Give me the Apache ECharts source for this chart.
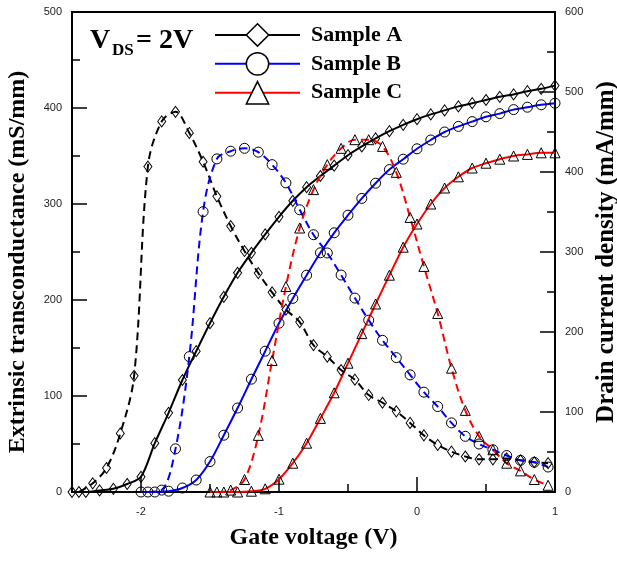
<!DOCTYPE html>
<html>
<head>
<meta charset="utf-8">
<script src="https://cdn.jsdelivr.net/npm/echarts@6/dist/echarts.min.js"></script>
<style>
html, body { margin: 0; padding: 0; background: #fff; }
#chart { width: 617px; height: 561px; }
</style>
</head>
<body>
<div id="chart"></div>
<script>
// drain current (mA/mm, right axis), every 0.1 V
var idX_A = [-2.5,-2.4,-2.3,-2.2,-2.1,-2.0,-1.9,-1.8,-1.7,-1.6,-1.5,-1.4,-1.3,-1.2,-1.1,-1.0,-0.9,-0.8,-0.7,-0.6,-0.5,-0.4,-0.3,-0.2,-0.1,0.0,0.1,0.2,0.3,0.4,0.5,0.6,0.7,0.8,0.9,1.0];
var idA = [0,0,2,4,10,19,61,99,140,176,211,244,274,299,322,344,364,381,395,408,421,432,442,451,459,466,472,477,482,486,490,494,497,501,504,508];
var idX_B = [-2.0,-1.9,-1.8,-1.7,-1.6,-1.5,-1.4,-1.3,-1.2,-1.1,-1.0,-0.9,-0.8,-0.7,-0.6,-0.5,-0.4,-0.3,-0.2,-0.1,0.0,0.1,0.2,0.3,0.4,0.5,0.6,0.7,0.8,0.9,1.0];
var idB = [0,0,1,5,15,38,71,105,141,176,211,242,271,299,324,346,367,386,403,416,429,440,450,457,463,469,473,478,481,484,486];
var idX_C = [-1.5,-1.4,-1.3,-1.2,-1.1,-1.0,-0.9,-0.8,-0.7,-0.6,-0.5,-0.4,-0.3,-0.2,-0.1,0.0,0.1,0.2,0.3,0.4,0.5,0.6,0.7,0.8,0.9,1.0];
var idC = [0,0,0,1,4,16,36,61,92,124,161,198,235,271,306,335,360,380,394,405,411,416,420,422,424,424];

// extrinsic transconductance (mS/mm, left axis), midpoints
var gmX_A = [-2.45,-2.35,-2.25,-2.15,-2.05,-1.95,-1.85,-1.75,-1.65,-1.55,-1.45,-1.35,-1.25,-1.15,-1.05,-0.95,-0.85,-0.75,-0.65,-0.55,-0.45,-0.35,-0.25,-0.15,-0.05,0.05,0.15,0.25,0.35,0.45,0.55,0.65,0.75,0.85,0.95];
var gmA = [0,9,25,61,121,339,386,396,374,344,308,277,251,228,208,190,177,153,141,127,117,101,93,84,72,59,49,42,37,34,34,35,33,31,30];
var gmX_B = [-1.95,-1.85,-1.75,-1.65,-1.55,-1.45,-1.35,-1.25,-1.15,-1.05,-0.95,-0.85,-0.75,-0.65,-0.55,-0.45,-0.35,-0.25,-0.15,-0.05,0.05,0.15,0.25,0.35,0.45,0.55,0.65,0.75,0.85,0.95];
var gmB = [0,2,45,141,292,347,355,358,354,341,322,294,268,249,226,202,179,158,140,122,104,89,72,58,50,44,38,33,31,26];
var gmX_C = [-1.45,-1.35,-1.25,-1.15,-1.05,-0.95,-0.85,-0.75,-0.65,-0.55,-0.45,-0.35,-0.25,-0.15,-0.05,0.05,0.15,0.25,0.35,0.45,0.55,0.65,0.75,0.85,0.95];
var gmC = [0,2,13,59,137,214,275,315,341,358,367,367,360,333,286,235,186,129,85,58,44,30,22,13,7];

var names = ['Sample A', 'Sample B', 'Sample C'];
var colors = ['#000000', '#0000ff', '#ff0000'];
var symbols = ['diamond', 'circle', 'triangle'];
var symSizes = [[8, 11], 10, 10];
var majorX = [-2, -1, 0, 1];

var serif = 'Liberation Serif';
var sans = 'Liberation Sans';

function pairs(xs, ys) {
	return xs.map(function(x, i) { return [x, ys[i]]; });
}

function makeSeries(i, xs, ys, dashed) {
	return {
		name: names[i],
		type: 'line',
		xAxisIndex: 0,
		yAxisIndex: dashed ? 0 : 1,
		data: pairs(xs, ys),
		smooth: dashed ? 0.35 : 0.3,
		symbol: symbols[i],
		symbolSize: symSizes[i],
		lineStyle: {
			color: colors[i],
			width: 2,
			type: dashed ? [8, 5] : 'solid'
		},
		itemStyle: {
			color: 'rgba(255,255,255,0)',
			borderColor: '#000',
			borderWidth: 1
		},
		z: dashed ? 3 : 2
	};
}

var myChart = echarts.init(document.getElementById('chart'));

var option = {
	animation: false,
	backgroundColor: '#fff',
	grid: {
		left: 72,
		right: 62,
		top: 12,
		bottom: 69,
		outerBoundsMode: 'none',
		containLabel: false,
		show: true,
		borderColor: '#000',
		borderWidth: 2
	},
	legend: {
		data: names,
		orient: 'vertical',
		left: 214,
		top: 23,
		padding: 0,
		itemWidth: 85,
		itemHeight: 28,
		itemGap: 5,
		itemStyle: {
			color: '#fff',
			borderColor: '#000',
			borderWidth: 1.5
		},
		textStyle: {
			fontFamily: serif,
			fontWeight: 'bold',
			fontSize: 22,
			color: '#000',
			padding: [0, 0, 0, 6]
		}
	},
	graphic: [
		{ type: 'text', left: 90, top: 27, style: { text: 'V', font: 'bold 28px "Liberation Serif"', fill: '#000' } },
		{ type: 'text', left: 112, top: 42, style: { text: 'DS', font: 'bold 17px "Liberation Serif"', fill: '#000' } },
		{ type: 'text', left: 136, top: 27, style: { text: '= 2V', font: 'bold 28px "Liberation Serif"', fill: '#000' } }
	],
	xAxis: [{
		type: 'value',
		min: -2.5,
		max: 1,
		interval: 0.5,
		name: 'Gate voltage (V)',
		nameLocation: 'middle',
		nameGap: 34,
		nameTextStyle: { fontFamily: serif, fontWeight: 'bold', fontSize: 24, color: '#000' },
		axisLine: { onZero: false, lineStyle: { color: '#000', width: 2 } },
		axisTick: { inside: true, length: 8, lineStyle: { color: '#000', width: 1.5 } },
		axisLabel: {
			fontFamily: sans,
			fontSize: 11,
			color: '#222',
			margin: 14,
			formatter: function(v) { return Number.isInteger(v) ? String(v) : ''; }
		},
		splitLine: { show: false }
	}, {
		type: 'value',
		min: -2.5,
		max: 1,
		position: 'bottom',
		axisLine: { show: false, onZero: false },
		axisTick: { inside: true, length: 15, customValues: majorX, lineStyle: { color: '#000', width: 1.5 } },
		axisLabel: { show: false },
		splitLine: { show: false }
	}],
	yAxis: [{
		type: 'value',
		min: 0,
		max: 500,
		interval: 100,
		position: 'left',
		name: 'Extrinsic transconductance (mS/mm)',
		nameLocation: 'middle',
		nameRotate: 90,
		nameGap: 42,
		nameTextStyle: { fontFamily: serif, fontWeight: 'bold', fontSize: 24, color: '#000', padding: [0, 20, 0, 0] },
		axisLine: { show: true, onZero: false, lineStyle: { color: '#000', width: 2 } },
		axisTick: { show: true, inside: true, length: 15, lineStyle: { color: '#000', width: 1.5 } },
		minorTick: { show: true, splitNumber: 2, length: 8, lineStyle: { color: '#000', width: 1.5 } },
		axisLabel: { fontFamily: sans, fontSize: 11, color: '#222', margin: 10 },
		splitLine: { show: false }
	}, {
		type: 'value',
		min: 0,
		max: 600,
		interval: 100,
		position: 'right',
		name: 'Drain current density (mA/mm)',
		nameLocation: 'middle',
		nameRotate: 90,
		nameGap: 36,
		nameTextStyle: { fontFamily: serif, fontWeight: 'bold', fontSize: 25, color: '#000' },
		axisLine: { show: true, onZero: false, lineStyle: { color: '#000', width: 2 } },
		axisTick: { show: true, inside: true, length: 15, lineStyle: { color: '#000', width: 1.5 } },
		minorTick: { show: true, splitNumber: 2, length: 8, lineStyle: { color: '#000', width: 1.5 } },
		axisLabel: { fontFamily: sans, fontSize: 11, color: '#222', margin: 10 },
		splitLine: { show: false }
	}],
	series: [
		makeSeries(0, idX_A, idA, false),
		makeSeries(1, idX_B, idB, false),
		makeSeries(2, idX_C, idC, false),
		makeSeries(0, gmX_A, gmA, true),
		makeSeries(1, gmX_B, gmB, true),
		makeSeries(2, gmX_C, gmC, true)
	]
};

myChart.setOption(option);
</script>
</body>
</html>
